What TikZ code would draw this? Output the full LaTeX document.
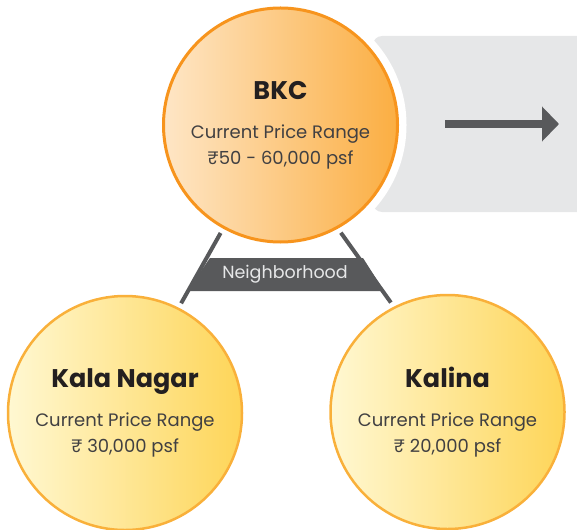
\documentclass[tikz,border=0pt]{standalone}
\usepackage{fontspec}
\setmainfont{Poppins}
\usetikzlibrary{positioning, shapes.geometric, arrows.meta}
\definecolor{darkgrey}{HTML}{58595B}
\definecolor{panelgrey}{HTML}{E6E7E8}
\definecolor{bandtext}{HTML}{E6E7E8}
\definecolor{titleblack}{HTML}{231F20}
\definecolor{bodygrey}{HTML}{414042}
\definecolor{hubedge}{HTML}{F7941D}
\definecolor{hubleft}{HTML}{FEE6C6}
\definecolor{hubright}{HTML}{FBAE42}
\definecolor{areaedge}{HTML}{F9B03A}
\definecolor{arealeft}{HTML}{FFF8D2}
\definecolor{arearight}{HTML}{FED558}
\tikzset{hub/.style={circle, draw=hubedge, line width=3pt, minimum size=234pt, inner sep=0pt,
  left color=hubleft, right color=hubright, align=center, text=bodygrey,
  font=\fontsize{18}{26}\selectfont}}
\tikzset{area/.style={hub, draw=areaedge, line width=2.5pt, left color=arealeft, right color=arearight}}
\tikzset{link/.style={draw=darkgrey, line width=4pt, shorten <=5pt, shorten >=5pt}}
\tikzset{bandtxt/.style={text=bandtext, inner sep=0pt, font=\fontsize{17.5}{19}\selectfont}}
\newcommand{\placename}[1]{{\fontsize{25.5}{25.5}\selectfont\bfseries\color{titleblack}#1}\\[13pt]}

\begin{document}
\begin{tikzpicture}[x=1pt, y=-1pt]
		\useasboundingbox (0,0) rectangle (577,529);
		\clip (0,0) rectangle (577,529);
		\fill[panelgrey, rounded corners=9pt] (373,36) rectangle (600,212);
		\coordinate (bkcpos) at (280.5,125);
		\fill[white] (bkcpos) circle (126pt);
		\node[hub] at (bkcpos) (bkc) {\placename{BKC}Current Price Range\\₹50 - 60,000 psf};
		\node[area] at (125,413) (kala) {\placename{Kala Nagar}Current Price Range\\₹ 30,000 psf};
		\node[area] at (447.5,412) (kalina) {\placename{Kalina}Current Price Range\\₹ 20,000 psf};

		\draw[link] (bkc.241) -- (kala.63);
		\draw[link] (bkc.299) -- (kalina.117);
		\fill[darkgrey] (210,258) -- (363,258) -- (384,291) -- (187,291) -- cycle;
		\node[bandtxt] at (285,274.5) (nbhd) {Neighborhood};

		\coordinate (arrowtail) at (445,124);
		\coordinate (arrowhead) at (559,124);
		\draw[darkgrey, line width=8pt, -{Triangle[width=34pt, length=17pt]}] (arrowtail) -- (arrowhead);
		\end{tikzpicture}
\end{document}
